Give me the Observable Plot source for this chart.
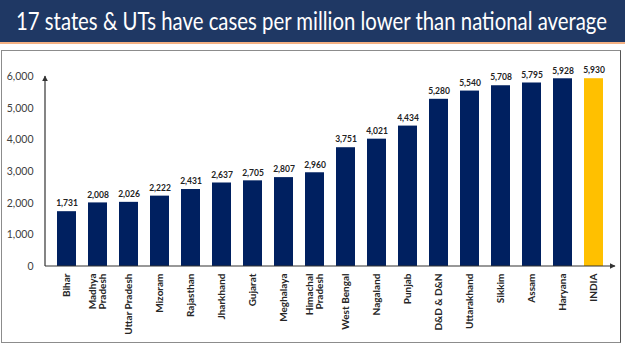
<!DOCTYPE html>
<html>
<head>
<meta charset="utf-8">
<script src="https://cdn.jsdelivr.net/npm/d3@7"></script>
<script src="https://cdn.jsdelivr.net/npm/@observablehq/plot@0.6"></script>
<style>
  html, body { margin: 0; padding: 0; background: #ffffff; }
  #wrap { position: relative; width: 625px; height: 351px; overflow: hidden; background: #fff; font-family: Lato, "Open Sans", sans-serif; }
  #title { position: absolute; left: 0; top: 0; width: 625px; height: 42px; background: #1f3864; border-bottom: 2px solid #f4b183; }
  #title span { position: absolute; left: 16px; top: 5px; color: #ffffff; font-size: 25px; white-space: nowrap; transform-origin: 0 0; font-family: Lato, sans-serif; }
  #panel { position: absolute; left: 1px; top: 50px; width: 620px; height: 293px; border: 1.5px solid #8c8c8c; box-sizing: border-box; border-right-color:#555; }
  #chart { position: absolute; left: 0; top: 48px; }
</style>
</head>
<body>
<div id="wrap">
  <div id="title"><span id="titleText">17 states &amp; UTs have cases per million lower than national average</span></div>
  <div id="panel"></div>
  <div id="chart"></div>
</div>
<script>
// Data
const states = ["Bihar", "Madhya Pradesh", "Uttar Pradesh", "Mizoram", "Rajasthan", "Jharkhand", "Gujarat", "Meghalaya", "Himachal Pradesh", "West Bengal", "Nagaland", "Punjab", "D&D & D&N", "Uttarakhand", "Sikkim", "Assam", "Haryana", "INDIA"];
const casesPerMillion = [1731, 2008, 2026, 2222, 2431, 2637, 2705, 2807, 2960, 3751, 4021, 4434, 5280, 5540, 5708, 5795, 5928, 5930];
const wrappedLabels = ["Madhya Pradesh", "Himachal Pradesh"];
const highlight = "INDIA";
const yTicks = [0, 1000, 2000, 3000, 4000, 5000, 6000];

const data = states.map((s, i) => ({state: s, value: casesPerMillion[i]}));
const fmt = d3.format(",");

const plot = Plot.plot({
  width: 625,
  height: 297,
  marginLeft: 45,
  marginRight: 10,
  marginTop: 28,
  marginBottom: 79,
  style: {fontFamily: "Lato, sans-serif", color: "#262626", background: "transparent", overflow: "visible"},
  x: {domain: states, paddingInner: 0.4, paddingOuter: 0.135},
  y: {domain: [0, 6000]},
  marks: [
    Plot.barY(data, {x: "state", y: "value", fill: d => d.state === highlight ? "#ffc000" : "#002060"}),
    Plot.text(data, {x: "state", y: "value", text: d => fmt(d.value), dy: -8, fontSize: 8.5, fontWeight: "bold", fill: "#222"}),
    Plot.axisY({ticks: yTicks, tickFormat: d => fmt(d), tickSize: 0, tickPadding: 12, fontSize: 10.5, fill: "#404040", label: null}),
    Plot.axisX({tickRotate: -90, tickSize: 0, tickPadding: 7, fontSize: 10, fontWeight: "bold", fill: "#262626", label: null,
      tickFormat: d => wrappedLabels.includes(d) ? d.replace(" ", "\n") : d})
  ]
});
document.getElementById("chart").appendChild(plot);

// Axis lines with arrowheads
const svg = d3.select(plot);
const ys = plot.scale("y");
const y0 = ys.apply(0), yTop = ys.apply(6000);
const xLeft = 45, xRight = 615;
const defs = svg.append("defs");
defs.append("marker").attr("id", "arr").attr("viewBox", "0 0 10 10").attr("refX", 9).attr("refY", 5)
  .attr("markerWidth", 5).attr("markerHeight", 5).attr("orient", "auto")
  .append("path").attr("d", "M0,0L10,5L0,10z").attr("fill", "#333");
svg.append("line").attr("x1", xLeft).attr("x2", xLeft).attr("y1", y0).attr("y2", yTop)
  .attr("stroke", "#333").attr("stroke-width", 1.2).attr("marker-end", "url(#arr)");
svg.append("line").attr("x1", xLeft).attr("x2", xRight).attr("y1", y0).attr("y2", y0)
  .attr("stroke", "#333").attr("stroke-width", 1.2).attr("marker-end", "url(#arr)");

// Fit title width
const t = document.getElementById("titleText");
const w = t.getBoundingClientRect().width;
t.style.transform = `scaleX(${591 / w})`;
</script>
</body>
</html>
